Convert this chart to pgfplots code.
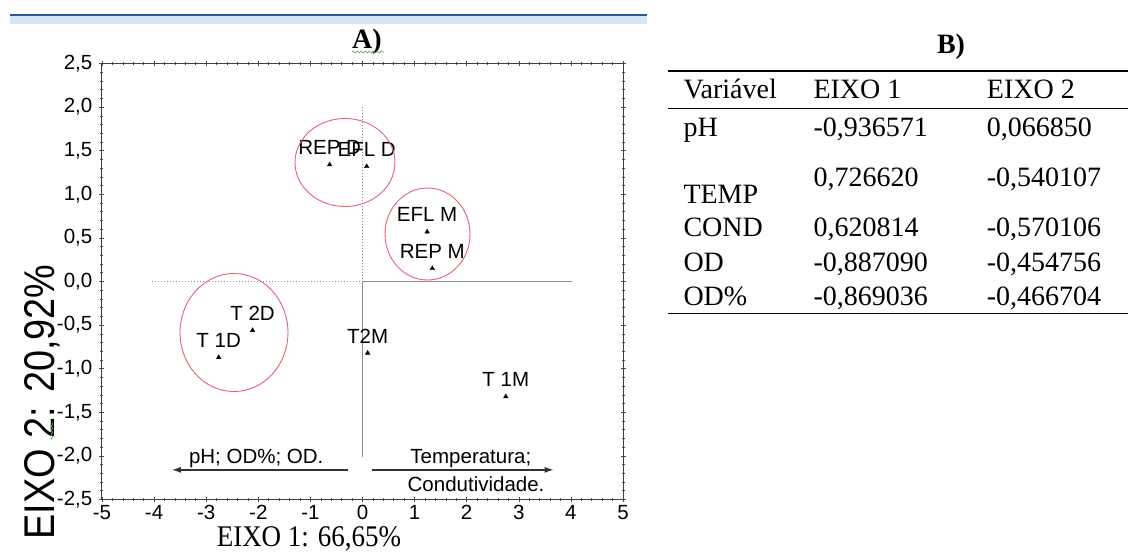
\documentclass[border=0pt]{standalone}
\usepackage{fontspec}
\setmainfont{Liberation Serif}
\newfontfamily\arial{Liberation Sans}
\newfontfamily\ylabfont[FakeStretch=0.88]{Liberation Sans}
\newfontfamily\xlabfont[FakeStretch=0.9]{Liberation Serif}
\usepackage{pgfplots}
\pgfplotsset{compat=1.18}
\usetikzlibrary{arrows.meta,decorations.pathmorphing}
\definecolor{circ}{RGB}{225,100,110}
\definecolor{topblue}{RGB}{50,85,150}
\definecolor{lightblue}{RGB}{215,228,245}
\definecolor{squig}{RGB}{90,170,80}
\newcommand\tickfont{\arial\fontsize{20.5}{24}\selectfont}
\newcommand\tabfont{\fontsize{28}{33}\selectfont}
\begin{document}
\begin{tikzpicture}
\useasboundingbox (0pt,0pt) rectangle (1128pt,-555pt);
% top line
\fill[lightblue] (10pt,-16pt) rectangle (647pt,-24pt);
\draw[topblue, line width=1.8pt] (10pt,-15pt) -- (647pt,-15pt);
\begin{axis}[
  at={(102pt,-499.5pt)}, anchor=south west,
  scale only axis, width=521pt, height=436pt,
  xmin=-5, xmax=5, ymin=-2.5, ymax=2.5,
  xtick={-5,-4,-3,-2,-1,0,1,2,3,4,5},
  ytick={-2.5,-2,-1.5,-1,-0.5,0,0.5,1,1.5,2,2.5},
  minor x tick num=4, minor y tick num=4,
  tick align=center, major tick length=5pt, minor tick length=3pt,
  axis line style={draw=black!75, line width=1pt},
  every tick/.style={black!70, line width=0.6pt},
  /pgf/number format/assume math mode=true,
  xticklabel style={font=\tickfont, anchor=north, inner sep=0pt, yshift=-3pt},
  yticklabel style={font=\tickfont, anchor=east, inner sep=0pt, xshift=-7pt,
    /pgf/number format/.cd, fixed, fixed zerofill, precision=1, use comma},
  clip=false,
]
\draw[black!45, dotted, line width=1pt] (axis cs:-4.04,0) -- (axis cs:0,0);
\draw[black!45, line width=0.9pt] (axis cs:0,0) -- (axis cs:4.02,0);
\draw[black!45, dotted, line width=1pt] (axis cs:0,2.0) -- (axis cs:0,0);
\draw[black!45, line width=0.9pt] (axis cs:0,0) -- (axis cs:0,-2.01);
\addplot[only marks, mark=triangle*, mark size=2.6pt, black,
  nodes near coords, point meta=explicit symbolic,
  nodes near coords align={anchor=base},
  every node near coord/.append style={font=\tickfont, anchor=base, yshift=10pt, inner sep=0pt, black}]
coordinates {
(-0.63,1.34) [REP D]
(0.08,1.32) [EFL D]
(1.24,0.57) [EFL M]
(1.34,0.15) [REP M]
(-2.11,-0.56) [T 2D]
(-2.76,-0.87) [T 1D]
(0.10,-0.82) [T2M]
(2.75,-1.32) [T 1M]
};
\draw[black!80, line width=1.3pt, -{Latex[length=9pt,width=6pt]}] (axis cs:-0.27,-2.16) -- (axis cs:-3.66,-2.16);
\draw[black!80, line width=1.3pt, -{Latex[length=9pt,width=6pt]}] (axis cs:0.18,-2.16) -- (axis cs:3.67,-2.16);
\node[font=\tickfont, anchor=base, inner sep=0pt] at (axis cs:-2.04,-2.085) {pH; OD\%; OD.};
\node[font=\tickfont, anchor=base, inner sep=0pt] at (axis cs:2.08,-2.085) {Temperatura;};
\node[font=\tickfont, anchor=base, inner sep=0pt] at (axis cs:2.18,-2.41) {Condutividade.};
\end{axis}
% circles
\draw[circ, line width=0.9pt] (345pt,-162.5pt) ellipse [x radius=50pt, y radius=44pt];
\draw[circ, line width=0.9pt] (427.5pt,-234pt) ellipse [x radius=42.5pt, y radius=46pt];
\draw[circ, line width=0.9pt] (234pt,-332.5pt) ellipse [x radius=54pt, y radius=59pt];
% titles and axis labels
\node[anchor=base, inner sep=0pt, font=\bfseries\fontsize{28}{33}\selectfont] at (367pt,-48pt) {A)};
\draw[squig, line width=0.7pt, decorate, decoration={snake, amplitude=1pt, segment length=4pt}] (352pt,-52pt) -- (384pt,-52pt);
\node[anchor=base, inner sep=0pt, font=\xlabfont\fontsize{30}{36}\selectfont] at (309pt,-546pt) {EIXO 1: 66,65\%};
\node[rotate=90, inner sep=0pt, font=\ylabfont\fontsize{43}{50}\selectfont] at (42pt,-402pt) {EIXO 2: 20,92\%};
\draw[squig, line width=0.7pt, decorate, decoration={snake, amplitude=1pt, segment length=4pt}] (52pt,-423pt) -- (52pt,-440pt);
% table B
\node[anchor=base, inner sep=0pt, font=\bfseries\fontsize{28}{33}\selectfont] at (951pt,-53pt) {B)};
\draw[line width=1.6pt] (668pt,-71pt) -- (1128pt,-71pt);
\draw[line width=1.6pt] (668pt,-108.3pt) -- (1128pt,-108.3pt);
\draw[line width=1.6pt] (668pt,-313.3pt) -- (1128pt,-313.3pt);
\begin{scope}[every node/.style={anchor=base west, inner sep=0pt, font=\tabfont}]
\node at (683.3pt,-98.3pt) {Variável};
\node at (813.3pt,-98.3pt) {EIXO 1};
\node at (986.7pt,-98.3pt) {EIXO 2};
\node at (683.3pt,-136.7pt) {pH};
\node at (813.3pt,-136.7pt) {-0,936571};
\node at (986.7pt,-136.7pt) {0,066850};
\node at (683.3pt,-203.3pt) {TEMP};
\node at (813.3pt,-186.7pt) {0,726620};
\node at (986.7pt,-186.7pt) {-0,540107};
\node at (683.3pt,-236.7pt) {COND};
\node at (813.3pt,-236.7pt) {0,620814};
\node at (986.7pt,-236.7pt) {-0,570106};
\node at (683.3pt,-271.7pt) {OD};
\node at (813.3pt,-271.7pt) {-0,887090};
\node at (986.7pt,-271.7pt) {-0,454756};
\node at (683.3pt,-305pt) {OD\%};
\node at (813.3pt,-305pt) {-0,869036};
\node at (986.7pt,-305pt) {-0,466704};
\end{scope}
\end{tikzpicture}
\end{document}
